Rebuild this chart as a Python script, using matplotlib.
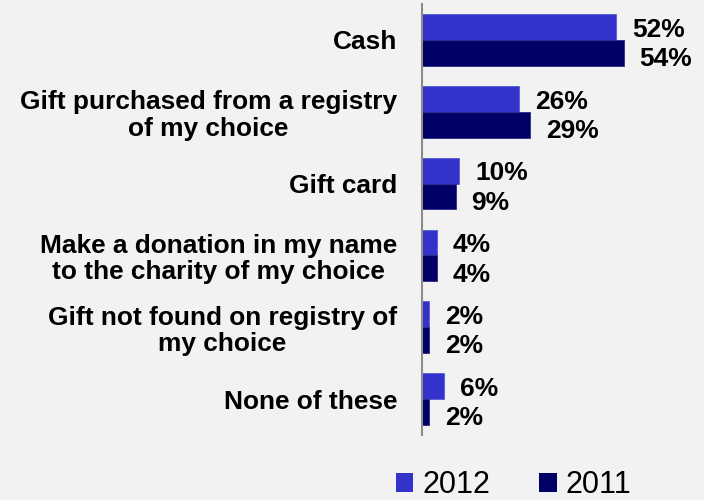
import numpy as np
import matplotlib
matplotlib.use('Agg')
import matplotlib.pyplot as plt
from matplotlib.patches import Patch

plt.rcParams['font.family'] = ['Liberation Sans', 'DejaVu Sans']

categories = ['Cash',
              'Gift purchased from a registry\nof my choice',
              'Gift card',
              'Make a donation in my name\nto the charity of my choice',
              'Gift not found on registry of\nmy choice',
              'None of these']
vals_2012 = [52, 26, 10, 4, 2, 6]
vals_2011 = [54, 29, 9, 4, 2, 2]
series_names = ['2012', '2011']

bg = '#F2F2F2'
c2012 = '#3333CC'
c2011 = '#000066'

fig = plt.figure(figsize=(7.04, 5.0), dpi=100, facecolor=bg)
ax = fig.add_axes([422/704, 0.13, 280/704, 0.862])
ax.set_facecolor(bg)

n = len(categories)
y = np.arange(n)[::-1]   # first category at the top
h = 0.36

b1 = ax.barh(y + h/2, vals_2012, height=h, color=c2012, edgecolor='#5a5ad8', linewidth=0.6)
b2 = ax.barh(y - h/2, vals_2011, height=h, color=c2011, edgecolor='#2a2a88', linewidth=0.6)

for bars, vals, dy in [(b1, vals_2012, -2), (b2, vals_2011, -4.5)]:
    for rect, v in zip(bars, vals):
        ax.annotate('%d%%' % v, (rect.get_width(), rect.get_y() + rect.get_height()/2),
                    xytext=(11.5, dy), textcoords='offset points',
                    ha='left', va='center', fontsize=19, fontweight='bold', color='black')

ax.set_xlim(0, 75)
ax.set_ylim(-0.5, 5.5)
ax.set_yticks(y)
ax.set_yticklabels(categories, fontsize=18.9, fontweight='bold', linespacing=1.12,
                   ha='right', multialignment='center')
ax.tick_params(axis='y', length=0, pad=18)
ax.set_xticks([])

for s in ['top', 'right', 'bottom']:
    ax.spines[s].set_visible(False)
ax.spines['left'].set_color('#8c8c8c')
ax.spines['left'].set_linewidth(1.5)

handles = [Patch(facecolor=c2012), Patch(facecolor=c2011)]
fig.legend(handles, series_names, loc='center', bbox_to_anchor=(0.73, 0.03),
           ncol=2, frameon=False, fontsize=22, handlelength=0.56, handleheight=0.56,
           handletextpad=0.3, columnspacing=1.6, borderpad=0, borderaxespad=0)

fig.savefig('out.png', dpi=100, facecolor=bg)
